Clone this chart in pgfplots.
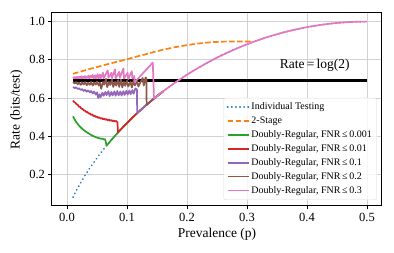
\documentclass[border=0pt]{standalone}
\usepackage{fontspec}
\setmainfont{Liberation Serif}
\usepackage{pgfplots}
\pgfplotsset{compat=1.18}
\definecolor{tabblue}{HTML}{1F77B4}
\definecolor{taborange}{HTML}{FF7F0E}
\definecolor{tabgreen}{HTML}{2CA02C}
\definecolor{tabred}{HTML}{D62728}
\definecolor{tabpurple}{HTML}{9467BD}
\definecolor{tabbrown}{HTML}{8C564B}
\definecolor{tabpink}{HTML}{E377C2}
\begin{document}
\begin{tikzpicture}
\begin{axis}[
  at={(0,0)}, anchor=south west,
  scale only axis, width=330pt, height=193pt,
  xmin=-0.025, xmax=0.525, ymin=0.035, ymax=1.045,
  xtick={0,0.1,0.2,0.3,0.4,0.5}, ytick={0.2,0.4,0.6,0.8,1.0},
  /pgf/number format/.cd, fixed, fixed zerofill, precision=1, assume math mode=true,
  /pgfplots/.cd,
  tick align=outside, major tick length=3.5pt,
  tick style={black, line width=0.8pt},
  xtick pos=left, ytick pos=left,
  grid=major, grid style={gray!35, line width=0.8pt},
  axis line style={line width=1pt},
  tick label style={font=\fontsize{12.5}{14}\selectfont},
  label style={font=\fontsize{13.5}{16}\selectfont},
  xlabel={Prevalence (p)}, ylabel={Rate (bits/test)},
  legend cell align=left,
  legend image code/.code={\draw[#1] (0pt,0pt) -- (21pt,0pt);},
  legend style={at={(1,0)}, anchor=south east, xshift=-5pt, yshift=6pt,
    draw=gray!30, rounded corners=2pt, fill=white, fill opacity=0.8, text opacity=1,
    font=\fontsize{10}{12}\selectfont, row sep=1.5pt, inner sep=3pt},
  every axis plot/.append style={line width=1.7pt, line join=round},
]
\addplot[black, line width=2.8pt, forget plot] coordinates {(0.01,0.6931) (0.5,0.6931)};

\addplot[tabblue, line cap=round, dash pattern=on 0.3pt off 3.8pt] coordinates {
(0.01,0.0808) (0.015,0.1124) (0.02,0.1414) (0.025,0.1687) (0.03,0.1944) (0.035,0.2189)
(0.04,0.2423) (0.045,0.2648) (0.05,0.2864) (0.055,0.3073) (0.06,0.3274) (0.065,0.3470)
(0.07,0.3659) (0.075,0.3843) (0.08,0.4022) (0.085,0.4196) (0.09,0.4365) (0.095,0.4529)
(0.1,0.4690) (0.105,0.4847) (0.11,0.4999) (0.115,0.5148) (0.12,0.5294) (0.125,0.5436)
(0.13,0.5574) (0.135,0.5710) (0.14,0.5842) (0.145,0.5972) (0.15,0.6098) (0.16,0.6343)
(0.17,0.6577) (0.18,0.6801) (0.19,0.7015) (0.2,0.7219) (0.21,0.7415) (0.22,0.7602)
(0.23,0.7780) (0.24,0.7950) (0.25,0.8113) (0.26,0.8268) (0.27,0.8415) (0.28,0.8555)
(0.29,0.8687) (0.3,0.8813) (0.31,0.8932) (0.32,0.9044) (0.33,0.9149) (0.34,0.9248)
(0.35,0.9341) (0.36,0.9427) (0.37,0.9507) (0.38,0.9580) (0.39,0.9648) (0.4,0.9710)
(0.41,0.9765) (0.42,0.9815) (0.43,0.9858) (0.44,0.9896) (0.45,0.9928) (0.46,0.9954)
(0.47,0.9974) (0.48,0.9989) (0.49,0.9997) (0.5,1.0)};
\addlegendentry{Individual Testing}

\addplot[taborange, dash pattern=on 5.5pt off 2.5pt] coordinates {
(0.01,0.727) (0.02,0.736) (0.03,0.745) (0.04,0.754) (0.05,0.762) (0.06,0.771) (0.07,0.779)
(0.08,0.787) (0.09,0.795) (0.1,0.803) (0.115,0.816) (0.13,0.828) (0.145,0.841) (0.16,0.853)
(0.18,0.866) (0.2,0.877) (0.215,0.884) (0.23,0.889) (0.245,0.893) (0.26,0.895) (0.28,0.896)
(0.3,0.896) (0.31,0.896)};
\addlegendentry{2-Stage}

\addplot[tabgreen] coordinates {
(0.010,0.504) (0.012,0.492) (0.014,0.481) (0.016,0.472) (0.018,0.463) (0.020,0.456)
(0.022,0.449) (0.025,0.440) (0.028,0.432) (0.031,0.425) (0.034,0.419) (0.037,0.413)
(0.040,0.407) (0.043,0.402) (0.046,0.398) (0.049,0.394) (0.052,0.391) (0.055,0.389)
(0.057,0.386) (0.059,0.388) (0.061,0.384) (0.063,0.385) (0.064,0.379) (0.066,0.3508)
(0.07,0.3659) (0.075,0.3843) (0.08,0.4022) (0.085,0.4196) (0.09,0.4365) (0.095,0.4529)
(0.1,0.4690) (0.105,0.4847) (0.11,0.4999) (0.115,0.5148) (0.12,0.5294) (0.125,0.5436)
(0.13,0.5574) (0.135,0.5710) (0.14,0.5842) (0.145,0.5972) (0.15,0.6098) (0.16,0.6343)};
\addlegendentry{Doubly-Regular, FNR\,≤\,0.001}

\addplot[tabred] coordinates {
(0.010,0.587) (0.012,0.579) (0.014,0.575) (0.016,0.567) (0.018,0.564) (0.020,0.555)
(0.022,0.553) (0.024,0.544) (0.026,0.543) (0.028,0.535) (0.030,0.534) (0.032,0.527)
(0.034,0.527) (0.036,0.519) (0.038,0.520) (0.040,0.512) (0.042,0.514) (0.044,0.506)
(0.046,0.508) (0.048,0.501) (0.050,0.503) (0.052,0.496) (0.054,0.499) (0.056,0.492)
(0.058,0.495) (0.060,0.489) (0.062,0.492) (0.064,0.486) (0.066,0.490) (0.068,0.483)
(0.070,0.487) (0.072,0.481) (0.074,0.485) (0.076,0.479) (0.078,0.482) (0.080,0.477)
(0.082,0.480) (0.084,0.474) (0.085,0.4196) (0.09,0.4365) (0.095,0.4529) (0.1,0.4690)
(0.105,0.4847) (0.11,0.4999) (0.115,0.5148) (0.12,0.5294) (0.125,0.5436) (0.13,0.5574)
(0.135,0.5710) (0.14,0.5842) (0.145,0.5972) (0.15,0.6098) (0.16,0.6343)};
\addlegendentry{Doubly-Regular, FNR\,≤\,0.01}

\addplot[tabpurple] coordinates {
(0.010,0.658) (0.013,0.652) (0.015,0.656) (0.018,0.647) (0.020,0.651) (0.023,0.642)
(0.025,0.647) (0.028,0.637) (0.030,0.643) (0.033,0.633) (0.035,0.640) (0.038,0.630)
(0.040,0.637) (0.043,0.624) (0.045,0.634) (0.048,0.618) (0.050,0.630) (0.052,0.600)
(0.054,0.620) (0.056,0.604) (0.059,0.628) (0.061,0.612) (0.064,0.632) (0.066,0.615)
(0.069,0.636) (0.071,0.610) (0.074,0.632) (0.076,0.614) (0.079,0.635) (0.081,0.612)
(0.084,0.637) (0.086,0.614) (0.089,0.634) (0.091,0.613) (0.094,0.636) (0.096,0.616)
(0.099,0.638) (0.101,0.618) (0.104,0.640) (0.106,0.620) (0.109,0.642) (0.111,0.622)
(0.114,0.650) (0.1165,0.645) (0.117,0.5207) (0.12,0.5294)
(0.125,0.5436) (0.13,0.5574) (0.135,0.5710) (0.14,0.5842) (0.145,0.5972) (0.15,0.6098)
(0.16,0.6343)};
\addlegendentry{Doubly-Regular, FNR\,≤\,0.1}

\addplot[tabbrown] coordinates {
(0.010,0.684) (0.013,0.676) (0.015,0.683) (0.018,0.672) (0.020,0.681) (0.023,0.669)
(0.025,0.682) (0.028,0.671) (0.030,0.683) (0.033,0.667) (0.035,0.680) (0.038,0.669)
(0.040,0.684) (0.043,0.665) (0.045,0.681) (0.048,0.670) (0.050,0.686) (0.053,0.665)
(0.055,0.681) (0.057,0.648) (0.060,0.684) (0.062,0.670) (0.065,0.700) (0.067,0.657)
(0.070,0.684) (0.072,0.668) (0.075,0.696) (0.077,0.658) (0.080,0.684) (0.082,0.665)
(0.085,0.694) (0.087,0.658) (0.090,0.697) (0.092,0.656) (0.095,0.684) (0.097,0.664)
(0.100,0.690) (0.102,0.660) (0.106,0.684) (0.108,0.655) (0.111,0.690) (0.113,0.666)
(0.117,0.686) (0.119,0.660) (0.126,0.705) (0.128,0.665)
(0.131,0.708) (0.1325,0.700) (0.1327,0.5647) (0.135,0.5710) (0.14,0.5842) (0.145,0.5972)
(0.15,0.6098) (0.16,0.6343)};
\addlegendentry{Doubly-Regular, FNR\,≤\,0.2}

\addplot[tabpink] coordinates {
(0.010,0.703) (0.012,0.709) (0.013,0.703) (0.015,0.710) (0.016,0.703) (0.018,0.712)
(0.019,0.703) (0.021,0.711) (0.022,0.704) (0.024,0.714) (0.025,0.703) (0.027,0.712)
(0.028,0.705) (0.030,0.715) (0.031,0.703) (0.033,0.713) (0.034,0.706) (0.036,0.717)
(0.037,0.703) (0.039,0.716) (0.040,0.706) (0.043,0.721) (0.044,0.703) (0.047,0.719)
(0.048,0.703) (0.051,0.725) (0.052,0.703) (0.055,0.723) (0.056,0.702) (0.060,0.732)
(0.061,0.703) (0.068,0.745) (0.069,0.706) (0.074,0.732) (0.075,0.704) (0.080,0.750)
(0.081,0.703) (0.087,0.737) (0.088,0.706) (0.094,0.755) (0.095,0.702) (0.101,0.732)
(0.102,0.699) (0.108,0.740) (0.109,0.702) (0.112,0.715) (0.113,0.683) (0.143,0.786)
(0.145,0.5972) (0.15,0.6098) (0.155,0.6222) (0.16,0.6343) (0.165,0.6461) (0.17,0.6577)
(0.175,0.6690) (0.18,0.6801) (0.185,0.6909) (0.19,0.7015) (0.2,0.7219) (0.21,0.7415)
(0.22,0.7602) (0.23,0.7780) (0.24,0.7950) (0.25,0.8113) (0.26,0.8268) (0.27,0.8415)
(0.28,0.8555) (0.29,0.8687) (0.3,0.8813) (0.31,0.8932) (0.32,0.9044) (0.33,0.9149)
(0.34,0.9248) (0.35,0.9341) (0.36,0.9427) (0.37,0.9507) (0.38,0.9580) (0.39,0.9648)
(0.4,0.9710) (0.41,0.9765) (0.42,0.9815) (0.43,0.9858) (0.44,0.9896) (0.45,0.9928)
(0.46,0.9954) (0.47,0.9974) (0.48,0.9989) (0.49,0.9997) (0.5,1.0)};
\addlegendentry{Doubly-Regular, FNR\,≤\,0.3}

\node[font=\fontsize{13.5}{16}\selectfont] at (axis cs:0.413,0.770) {Rate\,=\,log(2)};
\end{axis}
\pgfresetboundingbox
\useasboundingbox (-52pt,-47pt) rectangle (342pt,206pt);
\end{tikzpicture}
\end{document}
